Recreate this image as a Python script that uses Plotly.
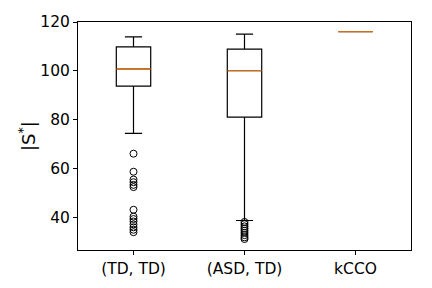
import plotly.graph_objects as go

categories = ["(TD, TD)", "(ASD, TD)", "kCCO"]
positions = [1, 2, 3]
q1 = [93.7, 81.0, 116.0]
median = [100.8, 100.0, 116.0]
q3 = [109.8, 108.9, 116.0]
lowerfence = [74.3, 38.6, 116.0]
upperfence = [113.9, 115.0, 116.0]
outliers_td = [66.0, 58.6, 55.4, 54.3, 53.2, 52.3, 43.0, 40.2, 39.2, 38.2, 37.0, 35.8, 34.8, 33.8]
outliers_asd = [38.0, 37.1, 36.2, 35.3, 34.4, 33.5, 32.6, 31.7, 31.0]

fig = go.Figure()
fig.add_trace(go.Box(
    x=positions, q1=q1, median=median, q3=q3,
    lowerfence=lowerfence, upperfence=upperfence,
    width=0.31, whiskerwidth=0.5, boxpoints=False,
    fillcolor="rgba(0,0,0,0)", line=dict(color="black", width=1.2),
    showlegend=False, hoverinfo="skip"))
fig.add_trace(go.Box(
    x=positions, q1=median, median=median, q3=median,
    lowerfence=median, upperfence=median,
    width=0.31, whiskerwidth=0.5, boxpoints=False,
    fillcolor="rgba(0,0,0,0)", line=dict(color="#ff7f0e", width=1.2),
    showlegend=False, hoverinfo="skip"))
for pos, vals in [(1, outliers_td), (2, outliers_asd)]:
    fig.add_trace(go.Scatter(
        x=[pos] * len(vals), y=vals, mode="markers",
        marker=dict(symbol="circle-open", size=7, color="black", line=dict(width=1)),
        showlegend=False, hoverinfo="skip"))

# page body has an 8px default margin, so the figure is shifted by 8px
fig.update_layout(
    width=424, height=280,
    margin=dict(l=70, r=21, t=14, b=38),
    paper_bgcolor="white", plot_bgcolor="white",
    boxmode="overlay",
    font=dict(family="DejaVu Sans", size=15.5, color="black"),
    annotations=[dict(
        text="|S<sup>*</sup>|", xref="paper", yref="paper",
        x=(27 - 78) / 333, y=0.5, xanchor="center", yanchor="middle",
        textangle=-90, showarrow=False, font=dict(size=18))],
)
fig.update_xaxes(
    range=[0.5, 3.5], tickvals=positions, ticktext=categories,
    showgrid=False, zeroline=False, showline=True, mirror=True,
    linecolor="black", linewidth=1, ticks="outside", ticklen=4, tickcolor="black",
    tickfont=dict(size=15.5), automargin=False)
fig.update_yaxes(
    range=[26.5, 120], tickvals=[40, 60, 80, 100, 120],
    showgrid=False, zeroline=False, showline=True, mirror=True,
    linecolor="black", linewidth=1, ticks="outside", ticklen=4, tickcolor="black",
    tickfont=dict(size=15.5), automargin=False)

fig.write_html("out.html")
